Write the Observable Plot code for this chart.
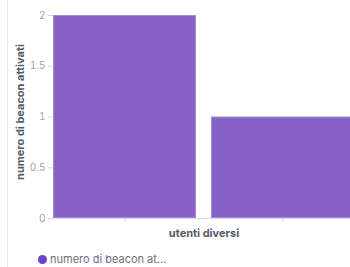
<!DOCTYPE html>
<html>
<head>
<meta charset="utf-8">
<script src="https://cdn.jsdelivr.net/npm/d3@7"></script>
<script src="https://cdn.jsdelivr.net/npm/@observablehq/plot@0.6"></script>
<style>
  html, body { margin: 0; padding: 0; background: #fff; overflow: hidden; width: 350px; height: 267px; }
  #wrap { position: relative; width: 350px; height: 267px; overflow: hidden; }
  #border { position: absolute; left: 7px; top: 0; width: 1px; height: 267px; background: #e6e9f0; }
  #chart { position: absolute; left: 0; top: 0; }
  #legend { position: absolute; left: 38px; top: 252px; font-family: Inter, "Noto Sans", sans-serif; font-size: 11px; color: #69707d; display: flex; align-items: center; white-space: nowrap; }
  #legend .dot { width: 9px; height: 9px; border-radius: 50%; background: #6f43c9; margin-right: 3px; }
</style>
</head>
<body>
<div id="wrap">
  <div id="border"></div>
  <div id="chart"></div>
  <div id="legend"><span class="dot"></span><span id="legendText"></span></div>
</div>
<script>
const categories = ["utente 1", "utente 2"];
const values = [2, 1];
const yTicks = [0, 0.5, 1, 1.5, 2];
const xTitle = "utenti diversi";
const yTitle = "numero di beacon attivati";
const seriesName = "numero di beacon at...";

const data = categories.map((c, i) => ({cat: c, v: values[i]}));

const chart = Plot.plot({
  width: 354,
  height: 245,
  marginLeft: 53,
  marginRight: 0,
  marginTop: 15,
  marginBottom: 27,
  style: {fontFamily: "Inter, 'Noto Sans', sans-serif", fontSize: "10px", background: "transparent", overflow: "visible", maxWidth: "none"},
  x: {domain: categories, paddingInner: 0.095, paddingOuter: 0, align: 0},
  y: {domain: [0, 2]},
  marks: [
    Plot.barY(data, {x: "cat", y: "v", fill: "#8562c3", stroke: "#a48ad8", strokeWidth: 1, inset: 0.5}),
    Plot.ruleY([0], {stroke: "#d3dae6"}),
    Plot.axisY({ticks: yTicks, tickFormat: d => String(d), tickSize: 5, tickPadding: 3, stroke: "#d3dae6", fill: "#98a2b3", label: null}),
    Plot.axisX({tickFormat: () => "", tickSize: 4, stroke: "#d3dae6", label: null}),
    Plot.text([yTitle], {y: [1], frameAnchor: "left", textAnchor: "middle", dx: -33, dy: -5, rotate: -90, fill: "#535966", fontWeight: "bold", fontSize: 11}),
    Plot.text([xTitle], {frameAnchor: "bottom", textAnchor: "middle", lineAnchor: "middle", dy: 15, fill: "#535966", fontWeight: "bold", fontSize: 11})
  ]
});
chart.style.maxWidth = "none";
chart.style.width = "354px";
chart.style.height = "245px";
document.getElementById("chart").appendChild(chart);
document.getElementById("legendText").textContent = seriesName;
</script>
</body>
</html>
